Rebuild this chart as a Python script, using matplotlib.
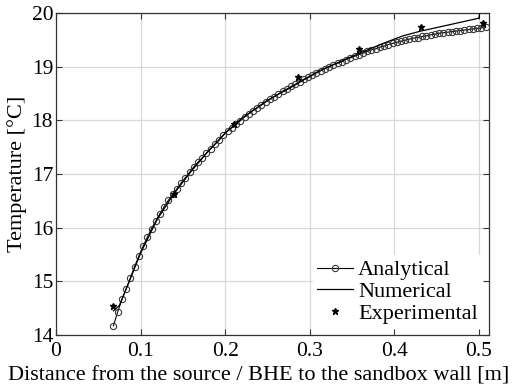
import numpy as np
import matplotlib
matplotlib.use("Agg")
import matplotlib.pyplot as plt

# analytical solution, sampled every 0.005 m starting at 0.068 m
analytical_T = [
    14.17, 14.43, 14.66, 14.86, 15.06, 15.27, 15.47, 15.65, 15.82, 15.98,
    16.12, 16.26, 16.39, 16.51, 16.62, 16.72, 16.83, 16.93, 17.03, 17.13,
    17.22, 17.30, 17.39, 17.47, 17.55, 17.63, 17.72, 17.80, 17.86, 17.93,
    17.99, 18.06, 18.12, 18.18, 18.23, 18.28, 18.34, 18.39, 18.44, 18.49,
    18.54, 18.58, 18.63, 18.67, 18.72, 18.76, 18.80, 18.84, 18.88, 18.92,
    18.96, 18.99, 19.03, 19.06, 19.09, 19.13, 19.16, 19.19, 19.22, 19.25,
    19.28, 19.31, 19.33, 19.36, 19.38, 19.41, 19.43, 19.45, 19.47, 19.49,
    19.51, 19.53, 19.54, 19.56, 19.57, 19.59, 19.60, 19.62, 19.63, 19.64,
    19.65, 19.66, 19.67, 19.68, 19.69, 19.70, 19.71, 19.72, 19.73,
]
analytical_x = np.linspace(0.068, 0.508, len(analytical_T))

numerical_x = [0.068, 0.075, 0.085, 0.10, 0.12, 0.14, 0.16, 0.18, 0.20, 0.22,
               0.25, 0.28, 0.31, 0.34, 0.37, 0.39, 0.41, 0.43, 0.46, 0.48, 0.50, 0.501]
numerical_T = [14.45, 14.55, 14.93, 15.52, 16.16, 16.64, 17.05, 17.42, 17.76, 18.04,
               18.37, 18.63, 18.91, 19.12, 19.32, 19.45, 19.57, 19.655, 19.76, 19.83, 19.90, 20.0]

experimental_x = [0.0675, 0.139, 0.2107, 0.286, 0.358, 0.432, 0.505]
experimental_T = [14.53, 16.62, 17.92, 18.81, 19.32, 19.74, 19.81]

plt.rcParams['font.family'] = ['Liberation Serif', 'DejaVu Serif']

fig = plt.figure(figsize=(5.18, 3.89), dpi=100)
ax = fig.add_axes([0.108, 0.139, 0.836, 0.828])

ax.plot(analytical_x, analytical_T, color='black', lw=0.8, marker='o',
        markersize=4.5, markerfacecolor='none', markeredgecolor='#3a3a3a',
        markeredgewidth=0.8, label='Analytical', zorder=3)
ax.plot(numerical_x, numerical_T, color='black', lw=0.9, label='Numerical', zorder=4)
ax.plot(experimental_x, experimental_T, linestyle='none', marker='*', color='black',
        markersize=5, label='Experimental', zorder=5)

ax.set_xlim(0, 0.512)
ax.set_ylim(14, 20)
ax.set_xticks([0, 0.1, 0.2, 0.3, 0.4, 0.5])
ax.set_xticklabels(['0', '0.1', '0.2', '0.3', '0.4', '0.5'])
ax.set_yticks([14, 15, 16, 17, 18, 19, 20])

ax.grid(True, color='#d9d9d9', lw=0.9)
ax.set_axisbelow(True)
ax.tick_params(direction='in', top=True, right=True, labelsize=15.5,
               length=4, width=0.8, color='#333333')
ax.tick_params(axis='x', pad=5)
ax.tick_params(axis='y', pad=2)
for s in ax.spines.values():
    s.set_color('#333333')
    s.set_linewidth(0.9)

ax.set_xlabel('Distance from the source / BHE to the sandbox wall [m]', fontsize=16)
ax.xaxis.set_label_coords(0.469, -0.097)
ax.set_ylabel('Temperature [°C]', fontsize=16, labelpad=3)

leg = ax.legend(loc='lower right', fontsize=16, frameon=True, fancybox=False,
                handlelength=1.6, handletextpad=0.25, borderpad=0.2,
                labelspacing=0.05, borderaxespad=0.3)
leg.get_frame().set_facecolor('white')
leg.get_frame().set_edgecolor('white')
leg.get_frame().set_alpha(1)

fig.savefig('out.png', dpi=100)
